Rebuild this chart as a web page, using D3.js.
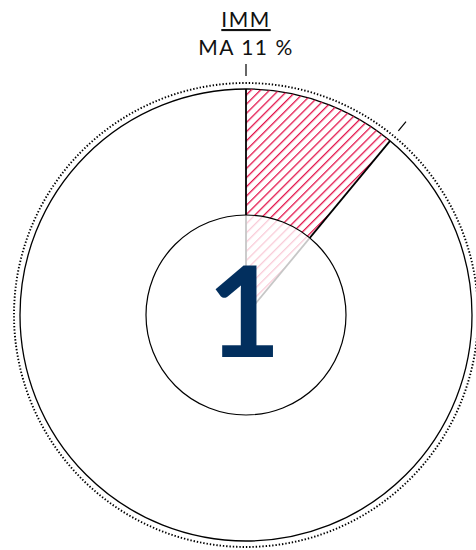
<!DOCTYPE html>
<html>
<head>
<meta charset="utf-8">
<script src="https://cdn.jsdelivr.net/npm/d3@7"></script>
<style>
	body { margin: 0; background: #fff; }
	svg { display: block; }
	.label { font-family: Lato, "Open Sans", sans-serif; fill: #111; }
</style>
</head>
<body>
<svg id="viz" width="476" height="550"></svg>
<script>

// chart values
const categories = ["IMM"];
const seriesName = ["MA"];
const shares = [11];          // percent
const rankLabel = ["1"];

let drawEverything = function() {

	let svg = d3.select("body").select("svg#viz");

	const cx = 246, cy = 315;
	const outerR = 226;
	const innerR = 100;
	const dottedR = 232;

	// hatch pattern for the slice
	let defs = svg.append("defs");
	let pattern = defs.append("pattern")
		.attr("id", "hatch")
		.attr("patternUnits", "userSpaceOnUse")
		.attr("width", 6.5)
		.attr("height", 6.5)
		.attr("patternTransform", "rotate(45)");
	pattern.append("line")
		.attr("x1", 0).attr("y1", 0)
		.attr("x2", 0).attr("y2", 6.5)
		.attr("stroke", "#e3124b")
		.attr("stroke-width", 2.6);

	let plot = svg.append("g")
		.attr("transform", `translate(${cx}, ${cy})`);

	// pie over the whole circle: share + remainder
	let pie = d3.pie().sort(null).value(d => d);
	let slices = pie([shares[0], 100 - shares[0]]);

	let arc = d3.arc().innerRadius(0).outerRadius(outerR);

	// dotted ring
	plot.append("circle")
		.attr("r", dottedR)
		.attr("fill", "none")
		.attr("stroke", "#000")
		.attr("stroke-width", 1.9)
		.attr("stroke-dasharray", "1.4 1.9");

	// outer solid circle
	plot.append("circle")
		.attr("r", outerR)
		.attr("fill", "#fff")
		.attr("stroke", "#000")
		.attr("stroke-width", 1.3);

	// the slice
	let s = slices[0];
	plot.append("path")
		.attr("d", arc(s))
		.attr("fill", "url(#hatch)")
		.attr("stroke", "none");

	// radial edges of the slice
	[s.startAngle, s.endAngle].forEach(function(a) {
		plot.append("line")
			.attr("x1", 0).attr("y1", 0)
			.attr("x2", outerR * Math.sin(a))
			.attr("y2", -outerR * Math.cos(a))
			.attr("stroke", "#000")
			.attr("stroke-width", 1.8);
	});

	// tick marks outside the ring
	[s.startAngle, s.endAngle].forEach(function(a) {
		plot.append("line")
			.attr("x1", 239 * Math.sin(a))
			.attr("y1", -239 * Math.cos(a))
			.attr("x2", 251 * Math.sin(a))
			.attr("y2", -251 * Math.cos(a))
			.attr("stroke", "#000")
			.attr("stroke-width", 1.2);
	});

	// inner circle washes out the slice
	plot.append("circle")
		.attr("r", innerR)
		.attr("fill", "#fff")
		.attr("fill-opacity", 0.78)
		.attr("stroke", "#000")
		.attr("stroke-width", 1.2);

	// rank number
	plot.append("text")
		.attr("x", -2)
		.attr("y", 42)
		.attr("text-anchor", "middle")
		.style("font-family", "Lato, sans-serif")
		.style("font-weight", 700)
		.style("font-size", "127px")
		.attr("fill", "#022f5e")
		.text(rankLabel[0]);

	// labels at top
	svg.append("text")
		.attr("class", "label")
		.attr("x", cx)
		.attr("y", 27)
		.attr("text-anchor", "middle")
		.style("font-size", "21px")
		.style("letter-spacing", "1.5px")
		.style("text-decoration", "underline")
		.text(categories[0]);

	svg.append("text")
		.attr("class", "label")
		.attr("x", cx)
		.attr("y", 55)
		.attr("text-anchor", "middle")
		.style("font-size", "21px")
		.style("letter-spacing", "1.5px")
		.text(`${seriesName[0]} ${shares[0]} %`);
};

drawEverything();
</script>
</body>
</html>
